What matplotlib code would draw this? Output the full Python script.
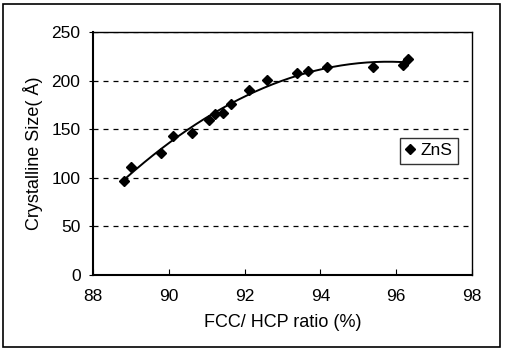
import numpy as np
import matplotlib
matplotlib.use("Agg")
import matplotlib.pyplot as plt
from matplotlib.patches import Rectangle

plt.rcParams['font.family'] = ['Liberation Sans', 'DejaVu Sans']

ratio = [88.83, 88.99, 89.79, 90.10, 90.60, 91.07, 91.22, 91.42, 91.64, 92.12,
         92.58, 93.39, 93.68, 94.18, 95.38, 96.19, 96.32]
size = [96.4, 111.0, 125.7, 143.0, 146.4, 159.6, 165.8, 166.5, 175.9, 190.0,
        200.3, 208.0, 209.6, 213.5, 214.2, 215.9, 222.5]
series_name = "ZnS"
xticks = [88, 90, 92, 94, 96, 98]
yticks = [0, 50, 100, 150, 200, 250]

fig = plt.figure(figsize=(5.05, 3.51), dpi=100)
ax = fig.add_axes([93/505, 1-275/351, (472-93)/505, (275-32)/351])

# polynomial trend line (2nd order) fitted to data
coef = np.polyfit(ratio, size, 2)
xs = np.linspace(min(ratio), max(ratio), 200)
ax.plot(xs, np.polyval(coef, xs), color='black', lw=1.4, zorder=2)
ax.plot(ratio, size, linestyle='none', marker='D', markersize=5.5,
        color='black', label=series_name, zorder=3)

ax.set_xlim(88, 98)
ax.set_ylim(0, 250)
ax.set_xticks(xticks)
ax.set_yticks(yticks)
ax.set_xticklabels([str(v) for v in xticks], fontsize=12.5)
ax.set_yticklabels([str(v) for v in yticks], fontsize=12.5)
ax.tick_params(axis='x', direction='in', length=4, pad=10)
ax.tick_params(axis='y', direction='out', length=3, pad=6)
for v in yticks[1:]:
    ax.axhline(v, color='black', lw=0.9, ls=(0, (4, 4)), zorder=1)
for s in ax.spines.values():
    s.set_color('black')
    s.set_linewidth(1.0)
ax.spines['left'].set_linewidth(1.5)
ax.spines['bottom'].set_linewidth(1.5)

ax.set_xlabel("FCC/ HCP ratio (%)", fontsize=13, labelpad=7)
ax.set_ylabel("Crystalline Size( Å)", fontsize=13, labelpad=6)

leg = ax.legend(loc='upper left', bbox_to_anchor=((400-93)/379, (275-138)/243),
                frameon=True, fancybox=False, fontsize=12.5, handlelength=0.6,
                handletextpad=0.3, borderpad=0.3, borderaxespad=0)
leg.get_frame().set_edgecolor('black')
leg.get_frame().set_linewidth(1.0)

fig.patches.append(Rectangle((3/505, 4/351), 497/505, 343/351, transform=fig.transFigure,
                             fill=False, edgecolor='black', lw=1.2))

fig.savefig("out.png", dpi=100)
